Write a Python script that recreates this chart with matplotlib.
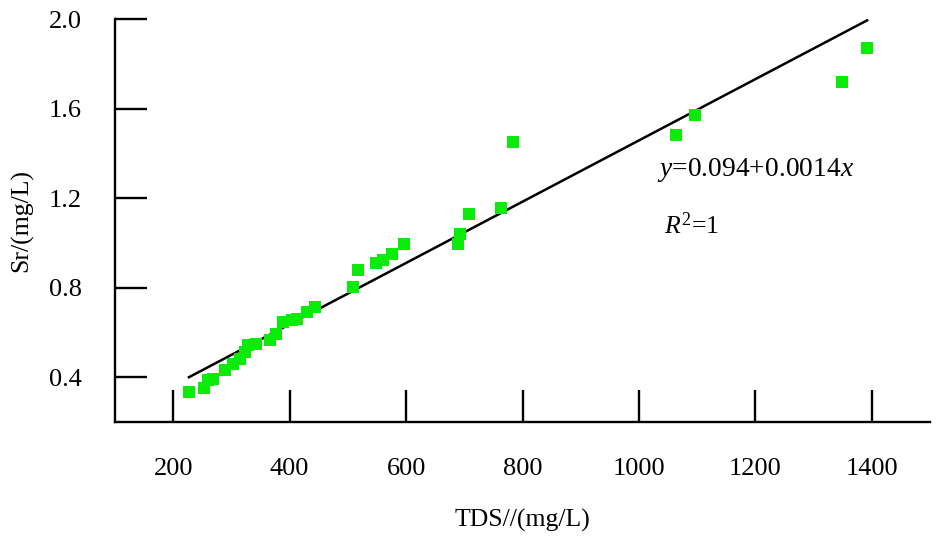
import matplotlib
matplotlib.use("Agg")
import matplotlib.pyplot as plt

plt.rcParams['font.family'] = ['Liberation Serif', 'DejaVu Serif']
plt.rcParams['mathtext.fontset'] = 'custom'
plt.rcParams['mathtext.rm'] = 'Liberation Serif'
plt.rcParams['mathtext.it'] = 'Liberation Serif:italic'

tds = [227, 253, 260, 269, 289, 303, 314, 323, 329, 342, 366, 377, 389, 404, 412,
       429, 443, 509, 517, 548, 560, 576, 597, 690, 692, 708, 763, 783, 1063, 1096,
       1349, 1392]
sr = [0.334, 0.350, 0.387, 0.394, 0.431, 0.461, 0.483, 0.513, 0.543, 0.550, 0.565,
      0.595, 0.647, 0.655, 0.662, 0.690, 0.712, 0.803, 0.878, 0.910, 0.922, 0.952,
      0.994, 0.997, 1.041, 1.131, 1.158, 1.450, 1.482, 1.570, 1.718, 1.870]

fit_x = [227, 1392]
fit_y = [0.40, 1.994]

x_ticks = [200, 400, 600, 800, 1000, 1200, 1400]
y_ticks = [0.4, 0.8, 1.2, 1.6, 2.0]

eq_text = r'$\it{y}$=0.094+0.0014$\it{x}$'
r2_text = r'$\it{R}^{2}$=1'

W, H = 947, 549
fig = plt.figure(figsize=(W / 100, H / 100), dpi=100)
ax = fig.add_axes([115 / W, 1 - 422 / H, (930 - 115) / W, (422 - 19) / H])

ax.plot(fit_x, fit_y, color='black', lw=1.8, zorder=2)
ax.plot(tds, sr, linestyle='none', marker='s', markersize=8.2,
        color='#0AEB0A', markeredgewidth=0, zorder=3)

ax.set_xlim(100, 1500)
ax.set_ylim(0.2, 2.0)
ax.set_xticks(x_ticks)
ax.set_yticks(y_ticks)
ax.set_xticklabels([str(v) for v in x_ticks])
ax.set_yticklabels([f"{v:.1f}" for v in y_ticks])

for s in ['top', 'right']:
    ax.spines[s].set_visible(False)
for s in ['left', 'bottom']:
    ax.spines[s].set_linewidth(1.7)
    ax.spines[s].set_color('black')

ax.tick_params(axis='both', direction='in', length=23, width=1.7,
               labelsize=19, colors='black')
ax.tick_params(axis='x', pad=26)
ax.tick_params(axis='y', pad=24)

ax.set_xlabel('TDS//(mg/L)', fontsize=18.5)
ax.set_ylabel('Sr/(mg/L)', fontsize=18.5)
ax.xaxis.set_label_coords(0.5, (422 - 520) / 403)
ax.xaxis.label.set_va('center')
ax.yaxis.set_label_coords((22 - 115) / 815, 0.5)
ax.yaxis.label.set_va('center')

ax.text(1031, 1.324, eq_text, fontsize=19.8, va='center', ha='left')
ax.text(1043, 1.079, r2_text, fontsize=18.5, va='center', ha='left')

fig.savefig('out.png', dpi=100)
